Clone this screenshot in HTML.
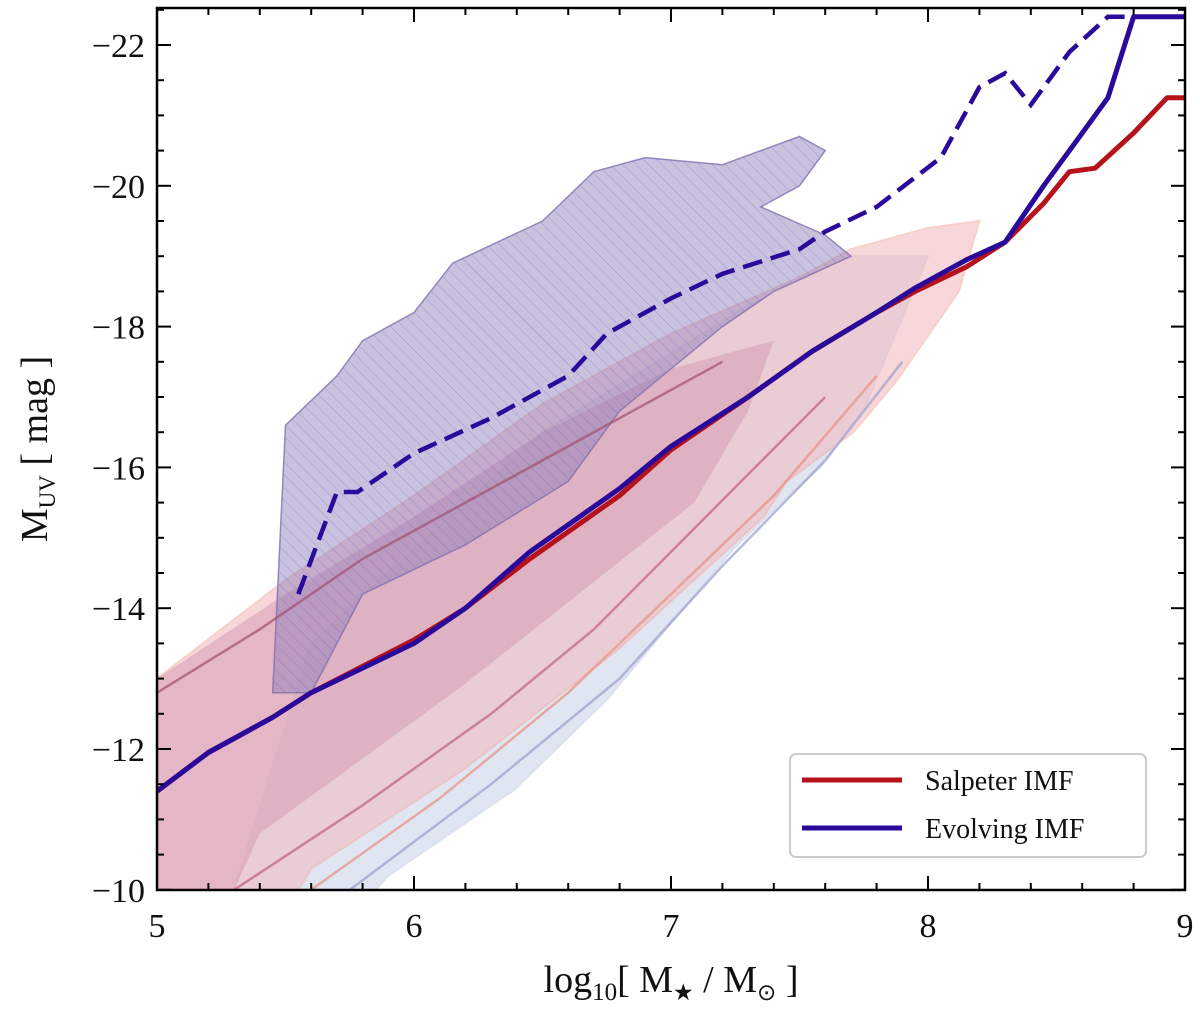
<!DOCTYPE html>
<html><head><meta charset="utf-8"><style>
body{margin:0;background:#fff;}
svg text{font-family:"Liberation Serif",serif;fill:#111;}
</style></head><body>
<svg id="chart" width="1200" height="1010" viewBox="0 0 1200 1010" xmlns="http://www.w3.org/2000/svg">
<defs>
<clipPath id="plotclip"><rect x="157" y="8" width="1028" height="882"/></clipPath>
<pattern id="hatch" patternUnits="userSpaceOnUse" width="9" height="9" patternTransform="rotate(-45)">
<line x1="0" y1="0" x2="0" y2="9" stroke="#6a5acd" stroke-width="0.9" opacity="0.6"/>
</pattern>
</defs>
<g id="plot" clip-path="url(#plotclip)"></g>
<g id="axes"></g>
</svg>
<script>
const xTicks=[5,6,7,8,9];
const yTicks=[-22,-20,-18,-16,-14,-12,-10];
const salpeterX=[5,5.2,5.45,5.6,6.0,6.2,6.45,6.8,7.0,7.3,7.55,7.8,7.95,8.15,8.3,8.45,8.55,8.65,8.8,8.93,9];
const salpeterY=[-11.4,-11.95,-12.45,-12.8,-13.55,-14.0,-14.7,-15.6,-16.25,-17.0,-17.65,-18.2,-18.5,-18.85,-19.2,-19.75,-20.2,-20.25,-20.75,-21.25,-21.25];
const evolvingX=[5,5.2,5.45,5.6,6.0,6.2,6.45,6.8,7.0,7.3,7.55,7.8,7.95,8.15,8.3,8.45,8.55,8.7,8.8,9];
const evolvingY=[-11.4,-11.95,-12.45,-12.8,-13.5,-14.0,-14.8,-15.7,-16.3,-17.0,-17.65,-18.2,-18.55,-18.95,-19.2,-20.0,-20.5,-21.25,-22.4,-22.4];
const dashedX=[5.55,5.7,5.78,6.0,6.3,6.6,6.75,7.0,7.2,7.5,7.6,7.8,8.05,8.2,8.3,8.4,8.55,8.7,9];
const dashedY=[-14.2,-15.65,-15.65,-16.2,-16.7,-17.3,-17.9,-18.4,-18.75,-19.1,-19.35,-19.7,-20.4,-21.4,-21.6,-21.15,-21.9,-22.4,-22.4];
const hatchX=[5.45,5.5,5.7,5.8,6.0,6.15,6.5,6.7,6.9,7.2,7.5,7.6,7.5,7.35,7.6,7.7,7.4,7.2,7.0,6.8,6.6,6.2,5.8,5.6,5.45];
const hatchY=[-12.8,-16.6,-17.3,-17.8,-18.2,-18.9,-19.5,-20.2,-20.4,-20.3,-20.7,-20.5,-20.0,-19.7,-19.3,-19.0,-18.5,-18.0,-17.4,-16.8,-15.8,-14.9,-14.2,-12.8,-12.8];
const redBandX=[5,5.5,6.0,6.5,7.0,7.5,7.7,8.0,8.2,8.12,7.88,7.71,7.45,7.36,6.79,6.19,5.6,5.55,5];
const redBandY=[-13.0,-14.4,-15.6,-16.9,-17.9,-18.7,-19.1,-19.4,-19.5,-18.5,-17.24,-16.5,-15.8,-15.3,-13.4,-11.7,-10.3,-10,-10];
const redCoreX=[5,5.5,6,6.5,7,7.4,7.3,7.09,6.19,5.4,5.3,5];
const redCoreY=[-13,-14.2,-15.3,-16.5,-17.4,-17.8,-16.8,-15.5,-12.9,-10.8,-10,-10];
const blueBandX=[5.3,5.6,6.5,7.3,7.7,8.0,7.76,7.58,7.44,7.24,6.75,6.39,5.9,5.85];
const blueBandY=[-10,-13.5,-16.5,-18.3,-19.0,-19.0,-16.9,-16.0,-15.54,-14.83,-12.7,-11.42,-10.2,-10];
const contourAX=[5,5.4,5.8,6.2,6.5,6.8,7.0,7.2];
const contourAY=[-12.8,-13.7,-14.7,-15.5,-16.1,-16.7,-17.1,-17.5];
const contourBX=[5.3,5.8,6.3,6.7,7.0,7.3,7.6];
const contourBY=[-10,-11.2,-12.5,-13.7,-14.8,-15.9,-17.0];
const contourCX=[5.6,6.1,6.6,7.0,7.4,7.8];
const contourCY=[-10,-11.3,-12.8,-14.2,-15.6,-17.3];
const contourDX=[5.75,6.3,6.8,7.2,7.6,7.9];
const contourDY=[-10,-11.5,-13.0,-14.6,-16.1,-17.5];

const X=v=>157+(v-5)*257;
const Y=v=>45+(v+22)*70.4;
const NS="http://www.w3.org/2000/svg";
const plot=document.getElementById('plot'),axes=document.getElementById('axes');
function mk(tag,attrs,parent){const e=document.createElementNS(NS,tag);for(const k in attrs)e.setAttribute(k,attrs[k]);parent.appendChild(e);return e;}
function pts(xs,ys){return xs.map((x,i)=>X(x).toFixed(1)+','+Y(ys[i]).toFixed(1)).join(' ');}

let e;
e=mk('polygon',{points:pts(blueBandX,blueBandY),fill:'#c2cce6',opacity:0.5,stroke:'#b8c4e0','stroke-width':2},plot);


e=mk('polygon',{points:pts(redBandX,redBandY),fill:'#f2b8bc',opacity:0.55,stroke:'#f4a8a0','stroke-width':2},plot);


e=mk('polygon',{points:pts(redCoreX,redCoreY),fill:'#d8a0b8',opacity:0.6},plot);


e=mk('polygon',{points:pts(hatchX,hatchY),fill:'#8878b8',opacity:0.45},plot);


e=mk('polygon',{points:pts(hatchX,hatchY),fill:'url(#hatch)',stroke:'#8070b0','stroke-width':1.5,opacity:0.8},plot);


[[contourAX,contourAY,'#a05070'],[contourBX,contourBY,'#c06080'],[contourCX,contourCY,'#e89080'],[contourDX,contourDY,'#9aa0cc']].forEach((c,i)=>{
 e=mk('polyline',{points:pts(c[0],c[1]),fill:'none',stroke:c[2],'stroke-width':2.5,opacity:0.7},plot);
 
 
});
e=mk('polyline',{points:pts(salpeterX,salpeterY),fill:'none',stroke:'#b5121b','stroke-width':5,'stroke-linejoin':'round'},plot);


e=mk('polyline',{points:pts(evolvingX,evolvingY),fill:'none',stroke:'#2a0a9a','stroke-width':5,'stroke-linejoin':'round'},plot);


e=mk('polyline',{points:pts(dashedX,dashedY),fill:'none',stroke:'#2a0a9a','stroke-width':4.5,'stroke-dasharray':'20,9'},plot);



e=mk('rect',{x:157,y:8,width:1028,height:882,fill:'none',stroke:'#000','stroke-width':2.5},axes);


for(let v=5;v<=9.001;v+=0.2){const major=Math.abs(v-Math.round(v))<1e-6;const L=major?14:7;
 mk('line',{x1:X(v),x2:X(v),y1:890,y2:890-L,stroke:'#000','stroke-width':2},axes);
 mk('line',{x1:X(v),x2:X(v),y1:8,y2:8+L,stroke:'#000','stroke-width':2},axes);}
xTicks.forEach(v=>{e=mk('text',{x:X(v),y:937,'font-size':34,'text-anchor':'middle'},axes);e.textContent=v;
 
 });
for(let v=-22.5;v<=-10.001+0.002;v+=0.5){const major=Math.abs(v/2-Math.round(v/2))<1e-6;const L=major?14:7;
 mk('line',{x1:157,x2:157+L,y1:Y(v),y2:Y(v),stroke:'#000','stroke-width':2},axes);
 mk('line',{x1:1185,x2:1185-L,y1:Y(v),y2:Y(v),stroke:'#000','stroke-width':2},axes);}
yTicks.forEach(v=>{e=mk('text',{x:145,y:Y(v)+12,'font-size':34,'text-anchor':'end'},axes);e.textContent='\u2212'+Math.abs(v);
 
 });
</script>
<svg style="position:absolute;left:0;top:0" width="1200" height="1010">
<text x="671" y="992" font-size="38" text-anchor="middle" style="font-family:'Liberation Serif',serif">log<tspan font-size="25" dy="8">10</tspan><tspan dy="-8">[ M</tspan><tspan font-size="23" dy="8">★</tspan><tspan dy="-8"> / M</tspan><tspan font-size="23" dy="8">⊙</tspan><tspan dy="-8"> ]</tspan></text>
<text transform="translate(47,449) rotate(-90)" font-size="38" text-anchor="middle" style="font-family:'Liberation Serif',serif">M<tspan font-size="23" dy="8">UV</tspan><tspan dy="-8">   [ mag ]</tspan></text>
<g>
<rect x="790" y="754" width="356" height="103" rx="6" fill="#fff" fill-opacity="0.85" stroke="#ccc" stroke-width="2"/>
<line x1="802" y1="780" x2="902" y2="780" stroke="#b5121b" stroke-width="5"/>
<text x="925" y="790" font-size="28" style="font-family:'Liberation Serif',serif">Salpeter IMF</text>
<line x1="802" y1="828" x2="902" y2="828" stroke="#2a0a9a" stroke-width="5"/>
<text x="925" y="838" font-size="28" style="font-family:'Liberation Serif',serif">Evolving IMF</text>
</g>
</svg>
</body></html>
